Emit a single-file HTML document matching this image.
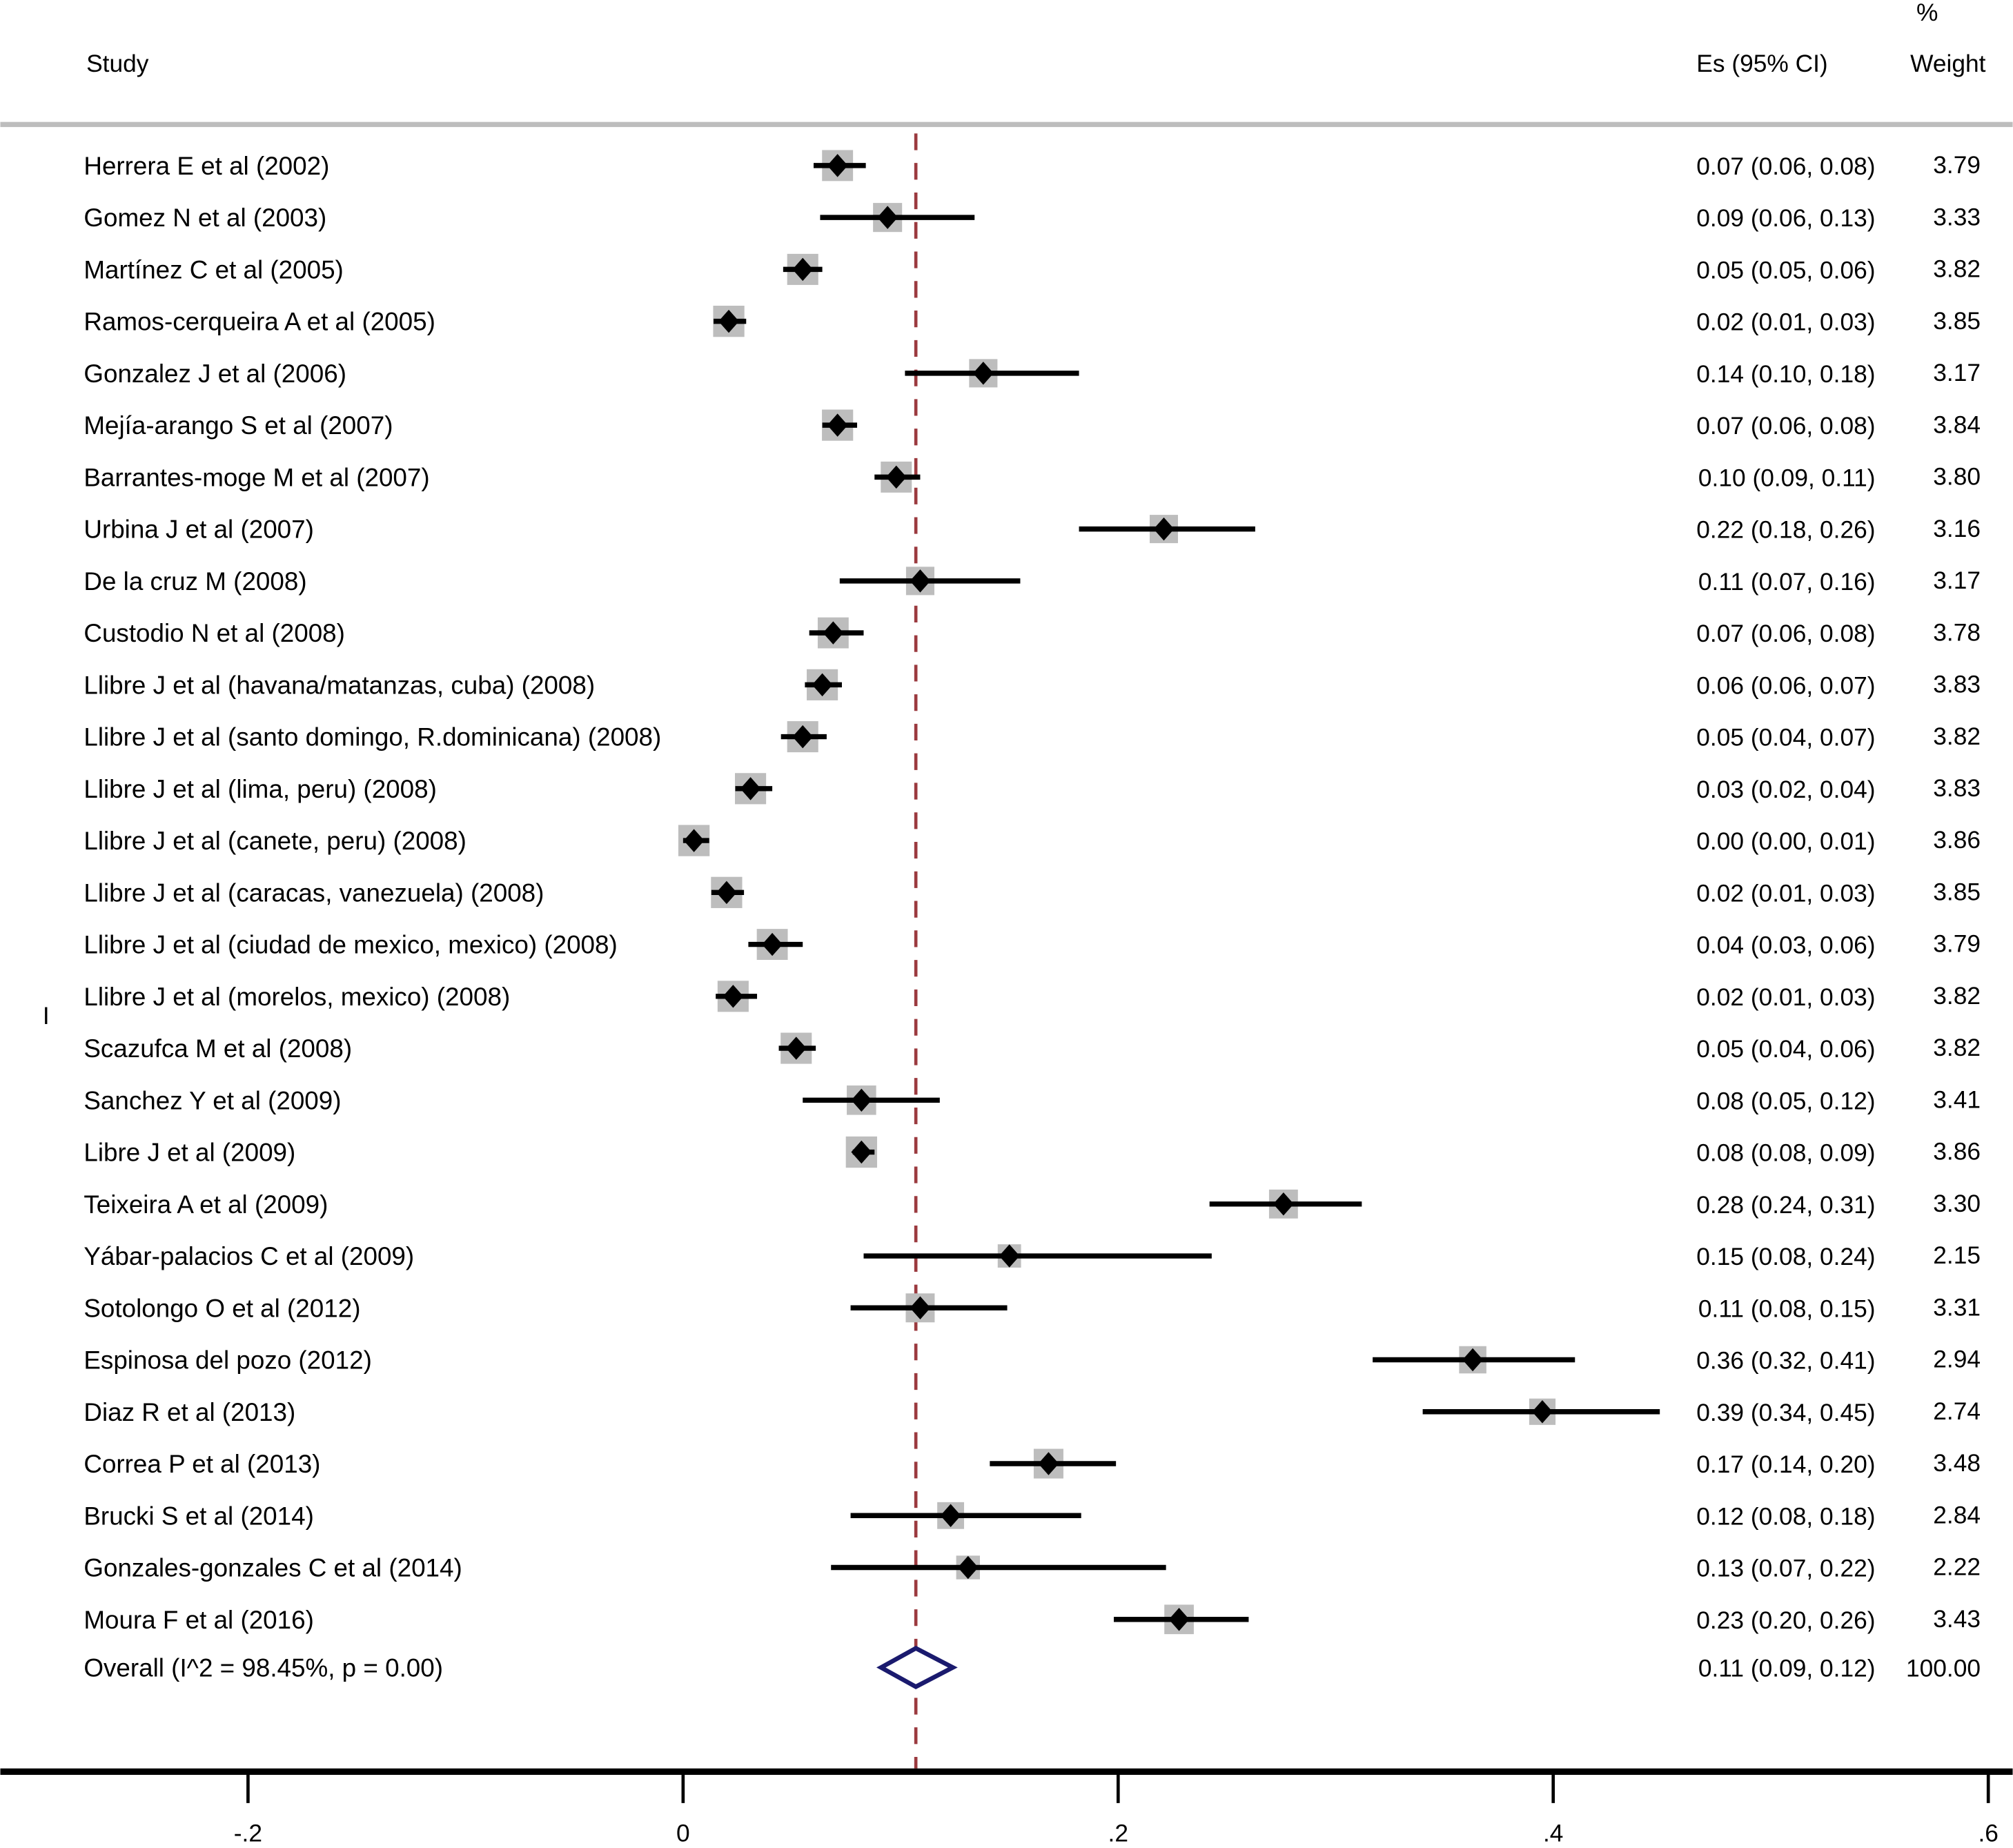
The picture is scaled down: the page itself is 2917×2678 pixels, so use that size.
<!DOCTYPE html>
<html><head><meta charset="utf-8"><style>
html,body{margin:0;padding:0;background:#fff}
svg{display:block}
text{font-family:"Liberation Sans",Arial,sans-serif;font-size:19px;fill:#000}
text.lab{font-size:19.8px}
</style></head><body>
<svg id="chart" width="2917" height="2678" viewBox="0 0 1568 1440" xmlns="http://www.w3.org/2000/svg">
<text x="67" y="56">Study</text>
<text x="1424" y="56" text-anchor="end">Es (95% CI)</text>
<text x="1493" y="16">%</text>
<text x="1547" y="56" text-anchor="end">Weight</text>
<rect x="0" y="95" width="1568" height="4" fill="#bdbdbd"/>
<text x="33" y="798">I</text>
<g id="rows"></g>
</svg>
<script>
const studies=["Herrera E et al (2002)","Gomez N et al (2003)","Martínez C et al (2005)","Ramos-cerqueira A et al (2005)","Gonzalez J et al (2006)","Mejía-arango S et al (2007)","Barrantes-moge M et al (2007)","Urbina J et al (2007)","De la cruz M (2008)","Custodio N et al (2008)","Llibre J et al (havana/matanzas, cuba) (2008)","Llibre J et al (santo domingo, R.dominicana) (2008)","Llibre J et al (lima, peru) (2008)","Llibre J et al (canete, peru) (2008)","Llibre J et al (caracas, vanezuela) (2008)","Llibre J et al (ciudad de mexico, mexico) (2008)","Llibre J et al (morelos, mexico) (2008)","Scazufca M et al (2008)","Sanchez Y et al (2009)","Libre J et al (2009)","Teixeira A et al (2009)","Yábar-palacios C et al (2009)","Sotolongo O et al (2012)","Espinosa del pozo (2012)","Diaz R et al (2013)","Correa P et al (2013)","Brucki S et al (2014)","Gonzales-gonzales  C et al (2014)","Moura F et al (2016)"];
const es=[0.071,0.094,0.055,0.021,0.138,0.071,0.098,0.221,0.109,0.069,0.064,0.055,0.031,0.005,0.020,0.041,0.023,0.052,0.082,0.082,0.276,0.150,0.109,0.363,0.395,0.168,0.123,0.131,0.228];
const lo=[0.060,0.063,0.046,0.014,0.102,0.064,0.088,0.182,0.072,0.058,0.056,0.045,0.024,0.000,0.013,0.030,0.015,0.044,0.055,0.078,0.242,0.083,0.077,0.317,0.340,0.141,0.077,0.068,0.198];
const hi=[0.084,0.134,0.064,0.029,0.182,0.080,0.109,0.263,0.155,0.083,0.073,0.066,0.041,0.012,0.028,0.055,0.034,0.061,0.118,0.088,0.312,0.243,0.149,0.410,0.449,0.199,0.183,0.222,0.260];
const esLabels=["0.07 (0.06, 0.08)","0.09 (0.06, 0.13)","0.05 (0.05, 0.06)","0.02 (0.01, 0.03)","0.14 (0.10, 0.18)","0.07 (0.06, 0.08)","0.10 (0.09, 0.11)","0.22 (0.18, 0.26)","0.11 (0.07, 0.16)","0.07 (0.06, 0.08)","0.06 (0.06, 0.07)","0.05 (0.04, 0.07)","0.03 (0.02, 0.04)","0.00 (0.00, 0.01)","0.02 (0.01, 0.03)","0.04 (0.03, 0.06)","0.02 (0.01, 0.03)","0.05 (0.04, 0.06)","0.08 (0.05, 0.12)","0.08 (0.08, 0.09)","0.28 (0.24, 0.31)","0.15 (0.08, 0.24)","0.11 (0.08, 0.15)","0.36 (0.32, 0.41)","0.39 (0.34, 0.45)","0.17 (0.14, 0.20)","0.12 (0.08, 0.18)","0.13 (0.07, 0.22)","0.23 (0.20, 0.26)"];
const weights=[3.79,3.33,3.82,3.85,3.17,3.84,3.80,3.16,3.17,3.78,3.83,3.82,3.83,3.86,3.85,3.79,3.82,3.82,3.41,3.86,3.30,2.15,3.31,2.94,2.74,3.48,2.84,2.22,3.43];
const pooled=[0.107,0.091,0.124];
const pooledLabel="0.11 (0.09, 0.12)";
const xTicks=[-0.2,0,0.2,0.4,0.6];
const xTickLabels=["-.2","0",".2",".4",".6"];

const NS="http://www.w3.org/2000/svg";
const g=document.getElementById('rows');
const X=v=>532+v*1695;
const Y=i=>129+i*40.46;
function mk(tag,attrs,parent){const e=document.createElementNS(NS,tag);for(const k in attrs)e.setAttribute(k,attrs[k]);(parent||g).appendChild(e);return e;}
function txt(x,y,s,anchor){const t=mk('text',{x:x,y:y+7,'text-anchor':anchor||'start'});t.textContent=s;return t;}

const ref=mk('line',{x1:X(pooled[0]),x2:X(pooled[0]),y1:104,y2:1378,stroke:'#9b3a3f','stroke-width':2.5,'stroke-dasharray':'13 10'});



studies.forEach((s,i)=>{
  const y=Y(i);
  const l=txt(65,y,s);
  l.setAttribute('class','lab');
  
  
  const side=12.4*Math.sqrt(weights[i]);
  const sq=mk('rect',{x:X(es[i])-side/2,y:y-side/2,width:side,height:side,fill:'#bdbdbd'});
  
  
  const ci=mk('line',{x1:X(lo[i]),x2:X(hi[i]),y1:y,y2:y,stroke:'#000','stroke-width':4});
  
  
  const cx=X(es[i]);
  const pt=mk('polygon',{points:`${cx},${y-9} ${cx+8},${y} ${cx},${y+9} ${cx-8},${y}`,fill:'#000'});
  
  
  const e=txt(1461,y,esLabels[i],'end');
  
  
  const w=txt(1543,y-1,weights[i].toFixed(2),'end');
  
  
});
const oy=Y(studies.length)-3;
const ol=txt(65,oy,"Overall (I^2 = 98.45%, p = 0.00)");
ol.setAttribute('class','lab');


const dm=mk('polygon',{points:`${X(pooled[1])},${oy} ${X(pooled[0])},${oy-15} ${X(pooled[2])},${oy} ${X(pooled[0])},${oy+15}`,fill:'#fff',stroke:'#1a1a6e','stroke-width':3.5});


const oe=txt(1461,oy,pooledLabel,'end');


const ow=txt(1543,oy,"100.00",'end');



const ax=mk('rect',{x:0,y:1378,width:1568,height:5,fill:'#000'});


xTicks.forEach((v,i)=>{
  const t=mk('line',{x1:X(v),x2:X(v),y1:1380,y2:1405,stroke:'#000','stroke-width':2.5});
  
  
  const lb=txt(X(v),1428,xTickLabels[i],'middle');
  
  
});
</script>
</body></html>
